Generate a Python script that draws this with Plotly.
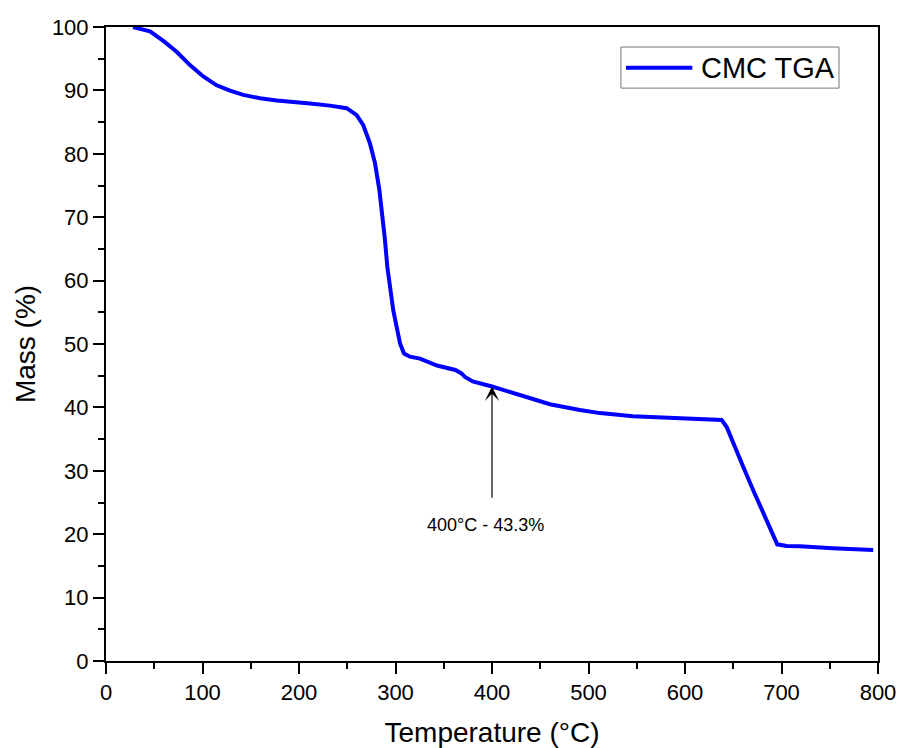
import plotly.graph_objects as go

temperature = [28, 45.6, 59.4, 73.2, 87, 100.8, 114.7, 128.5, 142.3, 159.6, 176.9, 194, 211.4,
               232, 249.4, 259.8, 266.6, 273.6, 278.8, 283.3, 286.7, 289.1, 291.5, 294.3, 297.7,
               301.2, 304.7, 308.8, 315, 325.4, 343, 362, 368, 372, 380, 400, 419, 439, 460,
               491, 512, 546, 581, 615.5, 638, 643.2, 650, 660.4, 670.8, 681.2, 691.5, 695.6,
               705.3, 719, 753, 795]
mass = [100, 99.3, 97.8, 96.1, 94.0, 92.2, 90.8, 89.95, 89.3, 88.75, 88.4, 88.1, 87.95,
        87.6, 87.2, 86.1, 84.5, 81.6, 78.5, 74.3, 70.1, 66.4, 62.2, 58.5, 55.3,
        52.7, 50.1, 48.5, 48.0, 47.7, 46.6, 45.9, 45.4, 44.8, 44.1, 43.3, 42.4, 41.4, 40.5,
        39.6, 39.1, 38.6, 38.4, 38.25, 38.0, 36.9, 34.3, 30.6, 26.9, 23.3, 19.8, 18.4,
        18.15, 18.1, 17.8, 17.5]

series_name = "CMC TGA"
annot_T, annot_M = 400, 43.3
annot_tail_M = 25.5
annot_text = "400°C - 43.3%"

font = "Liberation Sans, Arial, sans-serif"
blue = "#0000FF"

fig = go.Figure()
fig.add_trace(go.Scatter(x=temperature, y=mass, mode="lines", name=series_name,
                         line=dict(color=blue, width=4), showlegend=False))

# arrow annotation
fig.add_annotation(x=annot_T, y=annot_M, ax=annot_T, ay=annot_tail_M, axref="x", ayref="y",
                   xref="x", yref="y", text="", showarrow=True, arrowhead=3,
                   arrowsize=2.0, arrowwidth=1.2, arrowcolor="black", standoff=0)
fig.add_annotation(x=annot_T - 7, y=21.4, xref="x", yref="y", text=annot_text,
                   showarrow=False, font=dict(family=font, size=18, color="black"))

# legend box (drawn in paper coordinates)
fig.add_shape(type="rect", xref="paper", yref="paper", x0=0.667, x1=0.9495, y0=0.9036, y1=0.9684,
              line=dict(color="#777777", width=1), fillcolor="white", layer="above")
fig.add_shape(type="line", xref="paper", yref="paper", x0=0.6735, x1=0.7595, y0=0.9358, y1=0.9358,
              line=dict(color=blue, width=4), layer="above")
fig.add_annotation(x=0.7685, y=0.9358, xref="paper", yref="paper", text=series_name,
                   showarrow=False, xanchor="left", yanchor="middle",
                   font=dict(family=font, size=29, color="black"))

axis_common = dict(showline=True, linewidth=2, linecolor="black", mirror=True,
                   ticks="outside", ticklen=11, tickwidth=2, tickcolor="black",
                   showgrid=False, zeroline=False, ticklabeloverflow="allow",
                   tickfont=dict(family=font, size=22, color="black"))

fig.update_xaxes(range=[0, 800], dtick=100, tick0=0,
                 title=dict(text="Temperature (°C)", font=dict(family=font, size=28, color="black"),
                            standoff=20),
                 minor=dict(dtick=50, ticks="outside", ticklen=6, tickwidth=2, tickcolor="black"),
                 **axis_common)
fig.update_yaxes(range=[0, 100], dtick=10, tick0=0,
                 title=dict(text="Mass (%)", font=dict(family=font, size=28, color="black"),
                            standoff=8),
                 minor=dict(dtick=5, ticks="outside", ticklen=6, tickwidth=2, tickcolor="black"),
                 **axis_common)

fig.update_layout(
    width=898, height=748,
    margin=dict(l=106, r=20, t=27, b=87, autoexpand=False),
    plot_bgcolor="white", paper_bgcolor="white",
    showlegend=False,
)

fig.write_html("out.html",
               config={"displayModeBar": False},
               post_script="document.body.style.margin='0';"
                           "document.documentElement.style.overflow='hidden';"
                           "document.body.style.overflow='hidden';")
